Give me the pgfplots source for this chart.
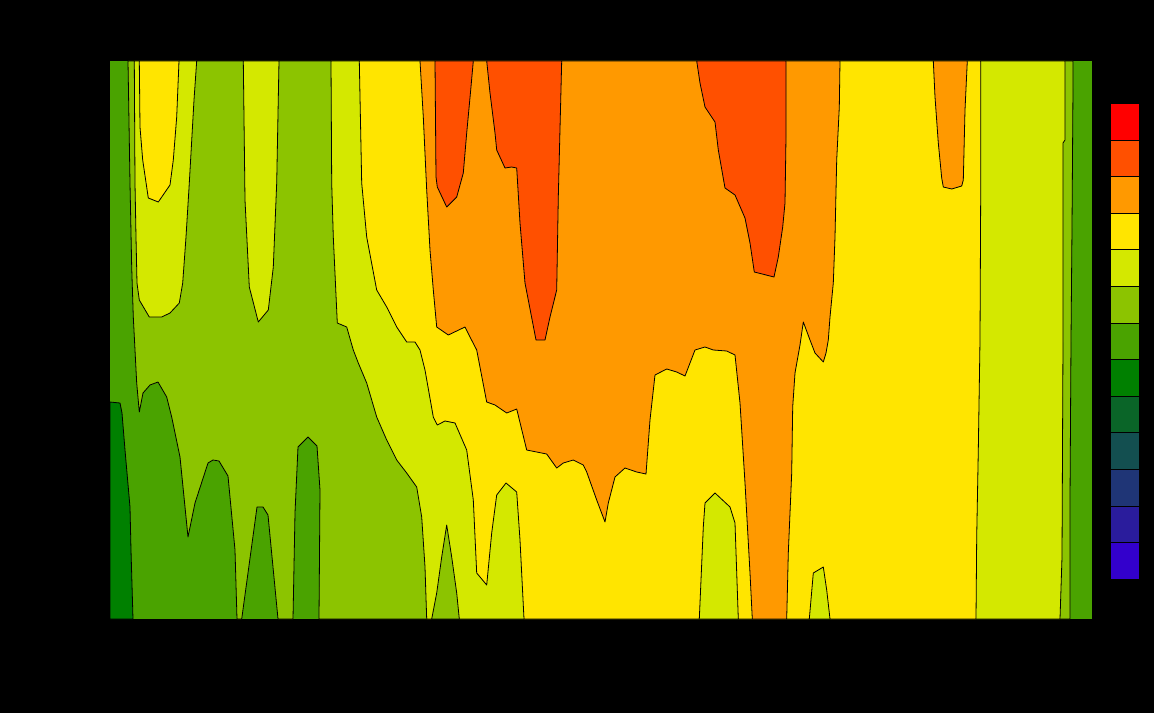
\documentclass[border=0pt]{standalone}
\usepackage{pgfplots}
\pgfplotsset{compat=1.18}

% discrete level colours, lowest to highest
\definecolor{lvA}{HTML}{3300CC}
\definecolor{lvB}{HTML}{2A1C9C}
\definecolor{lvC}{HTML}{1F3576}
\definecolor{lvD}{HTML}{134F50}
\definecolor{lvE}{HTML}{0A6528}
\definecolor{lvF}{HTML}{008000}
\definecolor{lvG}{HTML}{4AA300}
\definecolor{lvH}{HTML}{8CC400}
\definecolor{lvI}{HTML}{D4E800}
\definecolor{lvJ}{HTML}{FFE500}
\definecolor{lvK}{HTML}{FF9900}
\definecolor{lvL}{HTML}{FF5000}
\definecolor{lvM}{HTML}{FF0000}

\begin{document}
\begin{tikzpicture}
\begin{axis}[
  x=1bp, y=1bp, y dir=reverse,
  xmin=110, xmax=1092, ymin=61, ymax=619,
  hide axis, clip=false,
  every axis plot/.append style={no markers, line join=round},
  level/.style={fill=#1, draw=black, line width=0.8bp},
]
% page background
\addplot[fill=black, draw=none] coordinates {(0,0) (1154,0) (1154,713) (0,713)} --cycle;

% lowest filled band covers the panel
\addplot[fill=lvG, draw=none] coordinates {(110,61) (1092,61) (1092,619) (110,619)} --cycle;

% band 6
\addplot[level=lvF] coordinates {(110,402) (120,403) (122,413) (125,450) (130,507) (131,550) (133,619) (110,619)} --cycle;

% z >= 8 band boundary
\addplot[level=lvH] coordinates {
 (128,61) (130,183) (131.7,267) (133.3,317) (135,350) (136.7,383) (139.3,412)
 (143,393) (150,385) (158,382) (166.7,397) (171.7,417) (180,457) (188,537)
 (195,503) (208,463) (213,460) (219,461) (228,476) (235,550) (237,619)
 (241.7,619) (257,507) (263,507) (268,515) (273,567) (278,619)
 (293,619) (295,513) (298,447) (308,437) (317,446) (320,490) (319,619)
 (1070,619) (1070,500) (1071,340) (1072,227) (1073,87) (1073,61)} --cycle;

% z >= 9
\addplot[level=lvI] coordinates {
 (134.3,61) (135,183) (136,237) (137,283) (139.3,300) (149.3,317) (161.7,317)
 (170,313) (179.3,303) (182.7,283) (186,237) (189.3,183) (194,100) (196.7,61)} --cycle;
\addplot[level=lvI] coordinates {
 (243.3,61) (245,200) (249.3,287) (258.3,322) (268.3,310) (273.3,267) (276.7,183) (279,61)} --cycle;
\addplot[level=lvI] coordinates {
 (331,61) (331.7,183) (333.3,237) (337.3,323) (346.7,327) (353.3,350) (358.3,363)
 (366.7,383) (376.7,417) (386.7,440) (396.7,460) (406.7,473) (416.7,487)
 (421.7,517) (425,567) (426.7,619) (431.7,619) (436.7,593) (441.7,557)
 (446.7,525) (451.7,557) (456.7,593) (459.3,619)
 (1060,619) (1062,557) (1063,340) (1063,323) (1063,143) (1065,140) (1065,61)} --cycle;

% z >= 10
\addplot[level=lvJ] coordinates {
 (139.3,61) (140,127) (142.7,160) (148.3,198) (158.3,202) (170,185) (173.3,160) (176.7,117) (179,61)} --cycle;
\addplot[level=lvJ] coordinates {
 (359.3,61) (361.7,183) (366.7,237) (376.7,290) (386.7,307) (396.7,327) (406.7,342)
 (415,342) (420,350) (425,370) (433.3,417) (437.3,425) (445,421) (455,423)
 (466.7,450) (473.3,500) (476.7,573) (486.7,585) (491.7,533) (496.7,495)
 (506,483) (516.7,492) (520,540) (524,619)
 (699.3,619) (703.3,527) (705,503) (715,493) (730,507) (735,523) (738.3,619)
 (809.3,619) (813.3,573) (823.3,567) (826.7,590) (830,619)
 (976,619) (976.7,537) (978.3,450) (980,340) (980.7,193) (980.7,61)} --cycle;

% z >= 11
\addplot[level=lvK] coordinates {
 (420,61) (423.3,117) (426.7,190) (430,250) (433.3,290) (436.7,327) (448.3,335)
 (465,327) (470,337) (476.7,350) (486.7,402) (495,405) (506.7,413) (516.7,409)
 (526.7,450) (536.7,452) (546.7,454) (556.7,468) (563.3,463) (573.3,460)
 (583.3,465) (586.7,472) (596.7,500) (605,522) (608.3,503) (615,477) (625,468)
 (636.7,472) (646,474) (650,420) (655,375) (666.7,369) (676.7,372) (685,376)
 (695,350) (705,347) (713.3,350) (726.7,351) (735,355) (740,403) (745,483)
 (750,573) (752.3,619) (786.7,619) (788.3,553) (791.7,473) (792.7,407)
 (795,373) (800,345) (803.3,322) (810,340) (815,353) (823.3,362) (826,353)
 (828.3,340) (830,317) (833.3,283) (835,237) (836.7,160) (839.3,107) (840,61)} --cycle;
\addplot[level=lvK] coordinates {
 (933.3,61) (935,97) (938.3,143) (941.7,178) (943.3,187) (951.7,189) (961.7,186)
 (963.3,180) (965,110) (967.3,61)} --cycle;

% z >= 12
\addplot[level=lvL] coordinates {
 (435,61) (436,177) (437.3,187) (446.7,207) (456.7,197) (463.3,173) (466.7,133) (470.7,90) (473.3,61)} --cycle;
\addplot[level=lvL] coordinates {
 (486.7,61) (490,93) (495,133) (496.7,150) (505,168) (511.7,167) (516.7,168)
 (520,223) (525,283) (536,340) (545,340) (550,317) (556.7,290) (558.3,197) (561.7,61)} --cycle;
\addplot[level=lvL] coordinates {
 (696.7,61) (700,83) (705,107) (715,122) (718.3,150) (725,188) (735,195)
 (745,218) (750,243) (754.3,272) (774,277) (778.3,257) (782.7,227) (785,203) (786,137) (786,61)} --cycle;

% colour key, top (highest level) to bottom
\addplot[level=lvM] coordinates {(1110,103.3) (1139,103.3) (1139,139.9) (1110,139.9)} --cycle;
\addplot[level=lvL] coordinates {(1110,139.9) (1139,139.9) (1139,176.5) (1110,176.5)} --cycle;
\addplot[level=lvK] coordinates {(1110,176.5) (1139,176.5) (1139,213.1) (1110,213.1)} --cycle;
\addplot[level=lvJ] coordinates {(1110,213.1) (1139,213.1) (1139,249.7) (1110,249.7)} --cycle;
\addplot[level=lvI] coordinates {(1110,249.7) (1139,249.7) (1139,286.3) (1110,286.3)} --cycle;
\addplot[level=lvH] coordinates {(1110,286.3) (1139,286.3) (1139,322.9) (1110,322.9)} --cycle;
\addplot[level=lvG] coordinates {(1110,322.9) (1139,322.9) (1139,359.5) (1110,359.5)} --cycle;
\addplot[level=lvF] coordinates {(1110,359.5) (1139,359.5) (1139,396.1) (1110,396.1)} --cycle;
\addplot[level=lvE] coordinates {(1110,396.1) (1139,396.1) (1139,432.7) (1110,432.7)} --cycle;
\addplot[level=lvD] coordinates {(1110,432.7) (1139,432.7) (1139,469.3) (1110,469.3)} --cycle;
\addplot[level=lvC] coordinates {(1110,469.3) (1139,469.3) (1139,505.9) (1110,505.9)} --cycle;
\addplot[level=lvB] coordinates {(1110,505.9) (1139,505.9) (1139,542.5) (1110,542.5)} --cycle;
\addplot[level=lvA] coordinates {(1110,542.5) (1139,542.5) (1139,579.1) (1110,579.1)} --cycle;
\end{axis}
\end{tikzpicture}
\end{document}
